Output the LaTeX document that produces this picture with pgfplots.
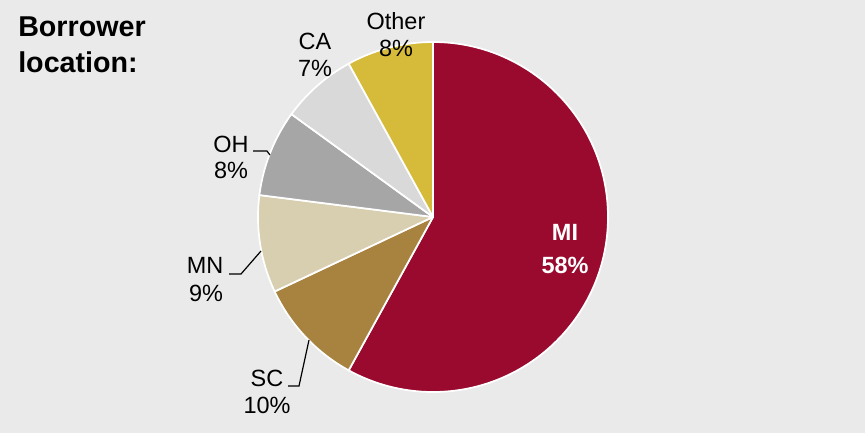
\documentclass[border=0pt]{standalone}
\usepackage{pgfplots}
\usepackage{pgfplotstable}
\pgfplotsset{compat=1.18}
\usepackage{fontspec}
\setmainfont{Liberation Sans}
\definecolor{bg}{HTML}{EAEAEA}
\definecolor{pc0}{HTML}{990A2E}
\definecolor{pc1}{HTML}{A8823F}
\definecolor{pc2}{HTML}{D8CEB0}
\definecolor{pc3}{HTML}{A6A6A6}
\definecolor{pc4}{HTML}{D9D9D9}
\definecolor{pc5}{HTML}{D6BB3A}
\pgfplotstableread{
label pct
MI 58
SC 10
MN 9
OH 8
CA 7
Other 8
}\pietable
\newcommand{\lab}{\fontsize{17.6}{20}\selectfont}
\begin{document}
\begin{tikzpicture}
\gdef\cum{90}
\foreach \i in {0,...,5}{%
  \pgfplotstablegetelem{\i}{pct}\of\pietable
  \pgfmathsetmacro\nxt{\cum-3.6*\pgfplotsretval}%
  \expandafter\xdef\csname pa\i\endcsname{\cum}%
  \expandafter\xdef\csname pb\i\endcsname{\nxt}%
  \xdef\cum{\nxt}%
}
\begin{axis}[
  width=648.75pt, height=324.75pt, scale only axis,
  xmin=0, xmax=865, ymin=0, ymax=433, y dir=reverse,
  hide axis, clip=false]
\fill[bg] (axis cs:0,0) rectangle (axis cs:865,433);
\pgfplotsinvokeforeach{0,...,5}{
  \filldraw[fill=pc#1, draw=white, line width=1.3pt, line join=round]
    (axis cs:433,217) -- ++(\csname pa#1\endcsname:131.25pt)
    arc[start angle=\csname pa#1\endcsname, end angle=\csname pb#1\endcsname, radius=131.25pt] -- cycle;
}
% title
\node[anchor=base west, font=\fontsize{21.5}{24}\selectfont\bfseries, inner sep=0] at (axis cs:18,36) {Borrower};
\node[anchor=base west, font=\fontsize{21.5}{24}\selectfont\bfseries, inner sep=0] at (axis cs:18,72) {location:};
% labels
\node[anchor=base, font=\lab\bfseries, text=white, inner sep=0] at (axis cs:565,240) {MI};
\node[anchor=base, font=\lab\bfseries, text=white, inner sep=0] at (axis cs:565,273) {58\%};
\node[anchor=base, font=\lab, inner sep=0] at (axis cs:396,29) {Other};
\node[anchor=base, font=\lab, inner sep=0] at (axis cs:396,56) {8\%};
\node[anchor=base, font=\lab, inner sep=0] at (axis cs:315,49) {CA};
\node[anchor=base, font=\lab, inner sep=0] at (axis cs:315,76) {7\%};
\node[anchor=base, font=\lab, inner sep=0] at (axis cs:231,152) {OH};
\node[anchor=base, font=\lab, inner sep=0] at (axis cs:231,178) {8\%};
\node[anchor=base, font=\lab, inner sep=0] at (axis cs:205,273) {MN};
\node[anchor=base, font=\lab, inner sep=0] at (axis cs:206,301) {9\%};
\node[anchor=base, font=\lab, inner sep=0] at (axis cs:267,386) {SC};
\node[anchor=base, font=\lab, inner sep=0] at (axis cs:267,413) {10\%};
% leaders
\draw[line width=0.9pt] (axis cs:253,151) -- (axis cs:267,151) -- (axis cs:270,155);
\draw[line width=0.9pt] (axis cs:229,274) -- (axis cs:241,274) -- (axis cs:261,251);
\draw[line width=0.9pt] (axis cs:288,386) -- (axis cs:299,386) -- (axis cs:309,340);
\end{axis}
\end{tikzpicture}
\end{document}
